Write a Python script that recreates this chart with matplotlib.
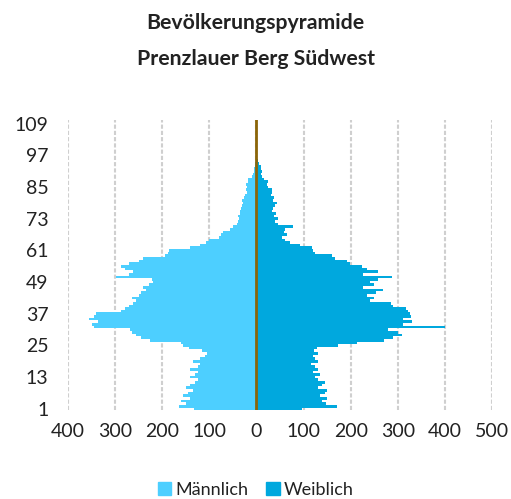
import numpy as np
import matplotlib
matplotlib.use("Agg")
import matplotlib.pyplot as plt
from matplotlib.patches import Patch

plt.rcParams['font.family'] = ['Lato', 'DejaVu Sans']

# Ages 1..110, values
ages = np.arange(1, 111)

male = [133, 165, 150, 160, 140, 155, 145, 135, 150, 140,
        130, 125, 140, 130, 125, 140, 125, 120, 135, 120,
        110, 105, 115, 143, 155, 160, 225, 245, 255, 265,
        268, 345, 350, 336, 355, 345, 340, 288, 280, 270,
        262, 255, 265, 250, 245, 235, 240, 228, 220, 222,
        298, 270, 262, 280, 288, 270, 250, 240, 195, 188,
        185, 140, 120, 108, 100, 80, 76, 72, 57, 50,
        42, 40, 38, 40, 36, 34, 32, 30, 28, 30,
        26, 24, 21, 22, 20, 22, 18, 17, 10, 8,
        6, 6, 4, 3, 2, 1, 0, 0, 0, 0,
        0, 0, 0, 0, 0, 0, 0, 0, 0, 0]

female = [97, 171, 148, 140, 150, 135, 145, 150, 130, 140,
          145, 130, 125, 135, 120, 130, 125, 115, 130, 125,
          120, 130, 122, 128, 174, 213, 270, 290, 308, 300,
          279, 400, 310, 330, 311, 328, 325, 321, 318, 290,
          285, 240, 250, 235, 254, 268, 226, 250, 240, 258,
          287, 226, 258, 235, 225, 199, 192, 167, 160, 125,
          121, 118, 93, 72, 60, 55, 65, 58, 60, 77,
          45, 40, 46, 38, 42, 32, 36, 40, 44, 35,
          38, 30, 32, 34, 25, 23, 24, 15, 12, 10,
          12, 9, 10, 6, 3, 1, 0, 0, 0, 0,
          0, 0, 0, 0, 0, 0, 0, 0, 0, 0]

age_ticks = [1, 13, 25, 37, 49, 61, 73, 85, 97, 109]
x_ticks = [-400, -300, -200, -100, 0, 100, 200, 300, 400, 500]

c_male = '#4dcfff'
c_female = '#00a8de'

fig = plt.figure(figsize=(5.11, 4.99), dpi=100)
ax = fig.add_axes([0.133, 0.178, 0.830, 0.582])

ax.barh(ages, -np.array(male), height=1.0, color=c_male, linewidth=0, zorder=2)
ax.barh(ages, female, height=1.0, color=c_female, linewidth=0, zorder=2)

ax.set_xlim(-400, 500)
ax.set_ylim(0.5, 110.5)
ax.set_xticks(x_ticks)
ax.set_xticklabels([str(abs(v)) for v in x_ticks])
ax.set_yticks(age_ticks)
ax.tick_params(length=0, labelsize=14, colors='#222222')
ax.tick_params(axis='x', pad=9)
ax.tick_params(axis='y', pad=14)

for s in ax.spines.values():
    s.set_visible(False)
ax.grid(axis='x', color='#cfcfcf', linewidth=1.5, linestyle=(0, (2, 1)), zorder=0)
ax.grid(axis='y', visible=False)
ax.axvline(0, color='#8b6508', linewidth=2, zorder=3)

fig.text(0.5, 0.953, 'Bevölkerungspyramide', ha='center', va='center',
         fontsize=15.3, fontweight='bold', color='#222222')
fig.text(0.5, 0.882, 'Prenzlauer Berg Südwest', ha='center', va='center',
         fontsize=15.3, fontweight='bold', color='#222222')

handles = [Patch(color=c_male, label='Männlich'), Patch(color=c_female, label='Weiblich')]
fig.legend(handles=handles, loc='center', bbox_to_anchor=(0.5, 0.018), ncol=2,
           frameon=False, fontsize=13, handlelength=0.75, handleheight=0.75,
           handletextpad=0.2, columnspacing=1.0, labelcolor='#222222')

fig.savefig('out.png', dpi=100)
